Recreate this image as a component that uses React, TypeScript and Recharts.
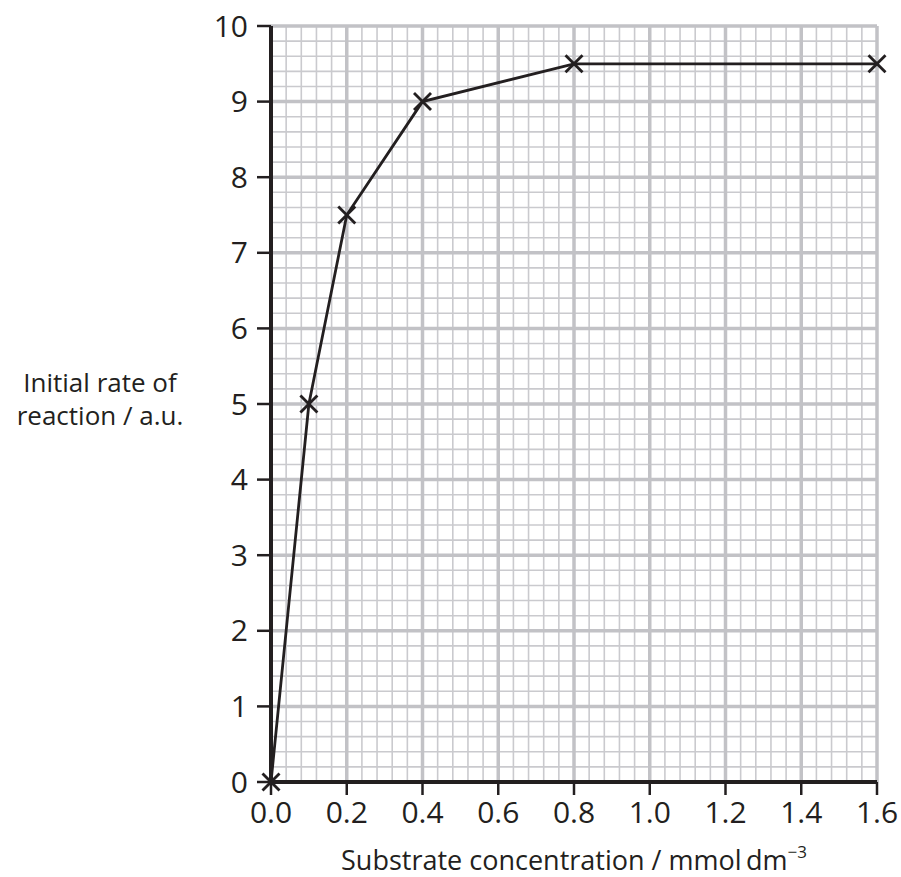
import React from 'react'
import { ComposedChart, Line, XAxis, YAxis, ReferenceLine } from 'recharts'

// substrate concentration (mmol dm-3) vs initial rate (a.u.)
const concentration = [0, 0.1, 0.2, 0.4, 0.8, 1.6]
const rate = [0, 5, 7.5, 9, 9.5, 9.5]

const xTicks = [0, 0.2, 0.4, 0.6, 0.8, 1.0, 1.2, 1.4, 1.6]
const yTicks = [0, 1, 2, 3, 4, 5, 6, 7, 8, 9, 10]

// graph paper lines
const minorX = Array.from({ length: 41 }, (_, i) => +(i * 0.04).toFixed(2))
const minorY = Array.from({ length: 51 }, (_, i) => +(i * 0.2).toFixed(1))

const data = concentration.map((c, i) => ({ c, rate: rate[i] }))

const INK = '#231f20'
const FONT = '"Open Sans", sans-serif'

const Cross = (props: any) => {
  const { cx, cy } = props
  if (cx == null || cy == null) return null
  const r = 8.5
  return (
    <g stroke={INK} strokeWidth={2.8}>
      <line x1={cx - r} y1={cy - r} x2={cx + r} y2={cy + r} />
      <line x1={cx - r} y1={cy + r} x2={cx + r} y2={cy - r} />
    </g>
  )
}

export default function App() {
  return (
    <div style={{ position: 'absolute', left: 0, top: 0, background: '#fff' }}>
      <ComposedChart
        width={901}
        height={877}
        data={data}
        margin={{ top: 26, right: 24, left: 0, bottom: 0 }}
      >
        {minorX.map((v) => (
          <ReferenceLine key={`mx${v}`} x={v} stroke="#cacace" strokeWidth={1.6} />
        ))}
        {minorY.map((v) => (
          <ReferenceLine key={`my${v}`} y={v} stroke="#cacace" strokeWidth={1.6} />
        ))}
        {xTicks.map((v) => (
          <ReferenceLine key={`MX${v}`} x={v} stroke="#c2c2c6" strokeWidth={3.5} />
        ))}
        {yTicks.map((v) => (
          <ReferenceLine key={`MY${v}`} y={v} stroke="#c2c2c6" strokeWidth={3.5} />
        ))}
        <XAxis
          dataKey="c"
          type="number"
          domain={[0, 1.6]}
          ticks={xTicks}
          tickFormatter={(v: number) => v.toFixed(1)}
          height={95}
          interval={0}
          stroke={INK}
          axisLine={{ stroke: INK, strokeWidth: 4 }}
          tickLine={{ stroke: INK, strokeWidth: 2.5 }}
          tickSize={13}
          tickMargin={7}
          tick={{ fill: INK, fontSize: 30, fontFamily: FONT }}
          label={{
            content: () => (
              <text x={574} y={870} textAnchor="middle" fill={INK} fontSize={27} fontFamily={FONT}>
                Substrate concentration / mmol{'\u2009'}dm
                <tspan fontSize={17} dy={-12}>{'\u22123'}</tspan>
              </text>
            ),
          }}
        />
        <YAxis
          type="number"
          domain={[0, 10]}
          ticks={yTicks}
          width={271}
          interval={0}
          stroke={INK}
          axisLine={{ stroke: INK, strokeWidth: 4 }}
          tickLine={{ stroke: INK, strokeWidth: 2.5 }}
          tickSize={14}
          tickMargin={9}
          tick={{ fill: INK, fontSize: 30, fontFamily: FONT }}
          label={{
            content: () => (
              <g fill={INK} fontSize={26} fontFamily={FONT}>
                <text x={100} y={392} textAnchor="middle">Initial rate of</text>
                <text x={100} y={425} textAnchor="middle">reaction / a.u.</text>
              </g>
            ),
          }}
        />
        <Line
          dataKey="rate"
          stroke={INK}
          strokeWidth={2.8}
          dot={<Cross />}
          activeDot={false}
          isAnimationActive={false}
        />
      </ComposedChart>
    </div>
  )
}
